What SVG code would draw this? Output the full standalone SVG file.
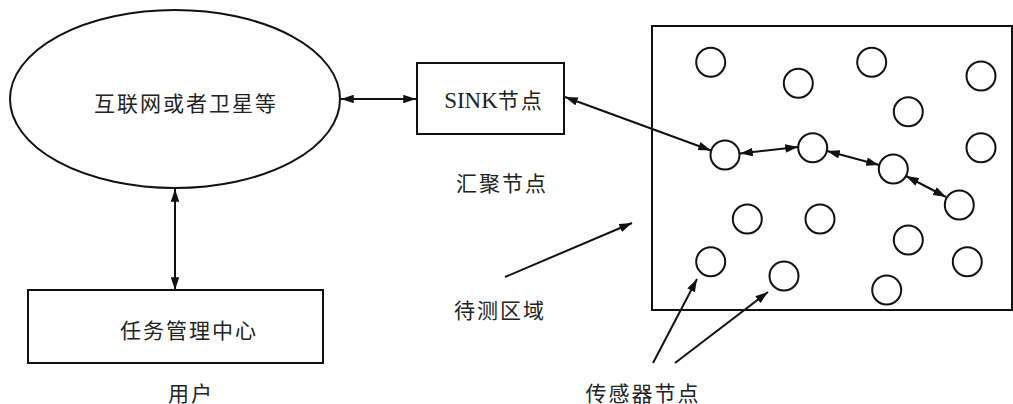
<svg xmlns="http://www.w3.org/2000/svg" width="1013" height="404" viewBox="0 0 1013 404">
<style>
.shape{fill:none;stroke:#111;stroke-width:2}
.c{fill:#fff;stroke:#111;stroke-width:2}
.ln{stroke:#111;stroke-width:2;fill:none}
.t{font-family:"Liberation Serif","Noto Sans CJK SC",serif;font-size:21px;fill:#222;text-anchor:middle;letter-spacing:2px}
.lat{font-size:23px;letter-spacing:0}
</style>
<defs>
<marker id="ah" viewBox="0 0 12 8" refX="12" refY="4" markerWidth="13" markerHeight="8.5" markerUnits="userSpaceOnUse" orient="auto-start-reverse">
<path d="M0,0 L12,4 L0,8 z" fill="#111"/>
</marker>
</defs>
<rect width="1013" height="404" fill="#fff"/>
<g id="internet">
<ellipse class="shape" cx="175" cy="99" rx="165" ry="89"/>
<text class="t" x="186" y="111">互联网或者卫星等</text>
</g>
<g id="sink">
<rect class="shape" x="417" y="63" width="147" height="71"/>
<text class="t" x="494" y="108"><tspan class="lat">SINK</tspan>节点</text>
</g>
<g id="sink-label"><text class="t" x="502" y="191">汇聚节点</text></g>
<g id="task">
<rect class="shape" x="28" y="290" width="295" height="73"/>
<text class="t" x="189" y="338">任务管理中心</text>
</g>
<g id="user-label"><text class="t" x="191" y="401">用户</text></g>
<g id="area-label"><text class="t" x="500" y="318">待测区域</text></g>
<g id="sensor-label"><text class="t" x="643" y="401">传感器节点</text></g>
<g id="area">
<rect class="shape" x="652" y="26" width="360" height="284"/>
<circle class="c" cx="710.7" cy="62.3" r="14.5"/>
<circle class="c" cx="798.3" cy="83.3" r="14.5"/>
<circle class="c" cx="871.7" cy="62.3" r="14.5"/>
<circle class="c" cx="981" cy="76" r="14.5"/>
<circle class="c" cx="908.3" cy="111.7" r="14.5"/>
<circle class="c" cx="981" cy="147.7" r="14.5"/>
<circle class="c" cx="725" cy="155" r="14.5"/>
<circle class="c" cx="812.7" cy="147.7" r="14.5"/>
<circle class="c" cx="893.3" cy="169" r="14.5"/>
<circle class="c" cx="959.3" cy="205" r="14.5"/>
<circle class="c" cx="747.3" cy="219" r="14.5"/>
<circle class="c" cx="820" cy="219" r="14.5"/>
<circle class="c" cx="908.3" cy="240" r="14.5"/>
<circle class="c" cx="710.7" cy="261.7" r="14.5"/>
<circle class="c" cx="784" cy="276" r="14.5"/>
<circle class="c" cx="967.3" cy="261.7" r="14.5"/>
<circle class="c" cx="886.7" cy="290" r="14.5"/>
</g>
<g id="connectors">
<line class="ln" x1="341" y1="99" x2="416" y2="99" marker-start="url(#ah)" marker-end="url(#ah)"/>
<line class="ln" x1="175" y1="189" x2="175" y2="290" marker-start="url(#ah)" marker-end="url(#ah)"/>
<line class="ln" x1="565" y1="97" x2="711" y2="150.5" marker-start="url(#ah)" marker-end="url(#ah)"/>
<line class="ln" x1="740" y1="153.5" x2="798" y2="147" marker-start="url(#ah)" marker-end="url(#ah)"/>
<line class="ln" x1="827" y1="151" x2="879" y2="165" marker-start="url(#ah)" marker-end="url(#ah)"/>
<line class="ln" x1="906" y1="176" x2="946" y2="197" marker-start="url(#ah)" marker-end="url(#ah)"/>
<line class="ln" x1="505" y1="277" x2="632" y2="223" marker-end="url(#ah)"/>
<line class="ln" x1="653" y1="363" x2="697" y2="279" marker-end="url(#ah)"/>
<line class="ln" x1="675" y1="363" x2="768" y2="292" marker-end="url(#ah)"/>
</g>
</svg>
